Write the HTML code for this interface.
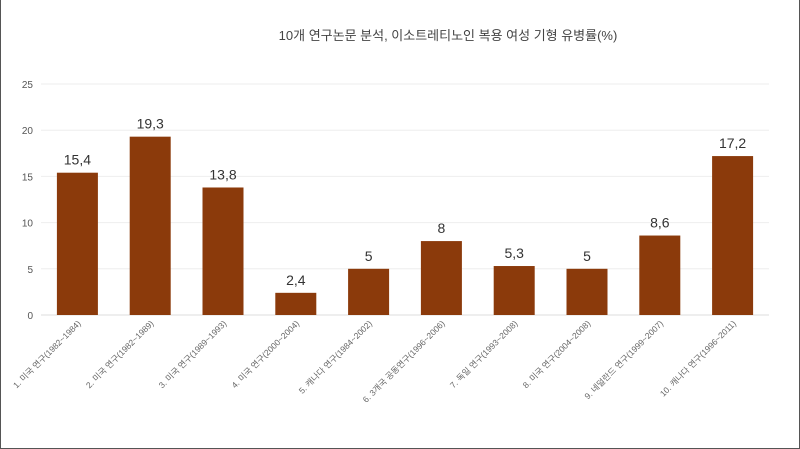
<!DOCTYPE html>
<html><head><meta charset="utf-8"><style>
body{margin:0;background:#fff}
#wrap{position:relative;width:800px;height:449px;box-sizing:border-box;border-left:1px solid #555;border-bottom:1px solid #555;border-right:1px solid #555;overflow:hidden}
svg text{font-family:"Liberation Sans","Noto Sans CJK KR",sans-serif}
</style></head><body>
<div id="wrap">
<svg id="chart" width="800" height="449">
<text x="447" y="40" text-anchor="middle" font-size="13" fill="#444">10개 연구논문 분석, 이소트레티노인 복용 여성 기형 유병률(%)</text>
</svg>
</div>
<script>
const categories=["1. 미국 연구(1982~1984)","2. 미국 연구(1982~1989)","3. 미국 연구(1989~1993)","4. 미국 연구(2000~2004)","5. 캐나다 연구(1984~2002)","6. 3개국 공동연구(1996~2006)","7. 독일 연구(1993~2008)","8. 미국 연구(2004~2008)","9. 네덜란드 연구(1999~2007)","10. 캐나다 연구(1996~2011)"];
const values=[15.4,19.3,13.8,2.4,5,8,5.3,5,8.6,17.2];
const valueLabels=["15,4","19,3","13,8","2,4","5","8","5,3","5","8,6","17,2"];
const ticks=[0,5,10,15,20,25];
const svg=document.getElementById('chart');
const NS="http://www.w3.org/2000/svg";
const L=40,R=768,Y0=315,Y1=84,MAX=25;
const y=v=>Y0-(Y0-Y1)*v/MAX;
const step=(R-L)/categories.length;
const xc=i=>L+step*(i+0.5);
function mk(t,a){const e=document.createElementNS(NS,t);for(const k in a)e.setAttribute(k,a[k]);svg.appendChild(e);return e;}
ticks.forEach(t=>{
 const g=mk('line',{x1:L,x2:R,y1:y(t),y2:y(t),stroke:t===0?'#ddd':'#eee','stroke-width':1});
 
 
 const tx=mk('text',{x:32,y:y(t)+4,'text-anchor':'end','font-size':10,fill:'#555'});
 tx.textContent=t;
 
 
});
values.forEach((v,i)=>{
 const w=41;
 const b=mk('rect',{x:xc(i)-w/2,y:y(v),width:w,height:Y0-y(v),fill:'#8B3A0B'});
 
 
 const vl=mk('text',{x:xc(i),y:y(v)-8,'text-anchor':'middle','font-size':14,fill:'#333'});
 vl.textContent=valueLabels[i];
 
 
 const cx=xc(i)+4,cy=324;
 const cl=mk('text',{x:cx,y:cy,'text-anchor':'end','font-size':8.5,fill:'#666',transform:`rotate(-45 ${cx} ${cy})`});
 cl.textContent=categories[i];
 
 
});
</script>
</body></html>
